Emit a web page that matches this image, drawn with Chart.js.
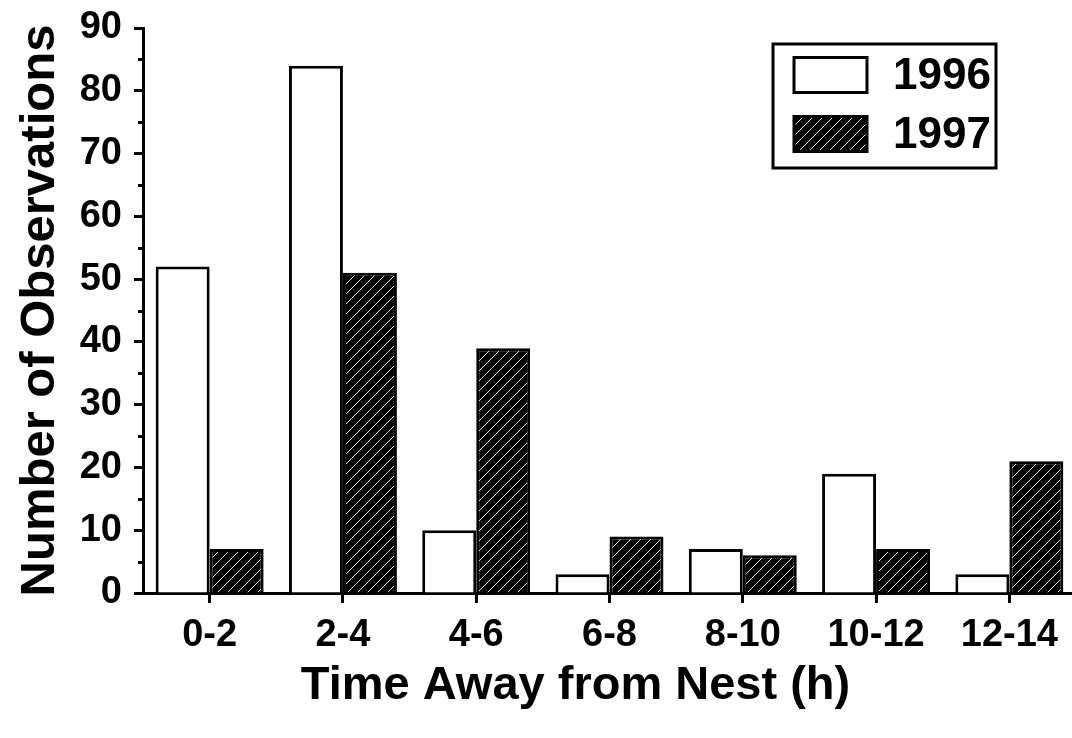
<!DOCTYPE html>
<html><head><meta charset="utf-8">
<script src="https://cdn.jsdelivr.net/npm/chart.js@4.4.1/dist/chart.umd.min.js"></script>
<style>html,body{margin:0;padding:0;background:#fff;overflow:hidden}#wrap{width:1076px;height:738px;position:relative}</style>
</head><body><div id="wrap"><canvas id="c" width="1076" height="738"></canvas></div>
<script>
const categories = ['0-2', '2-4', '4-6', '6-8', '8-10', '10-12', '12-14'];
const obs1996 = [52, 84, 10, 3, 7, 19, 3];
const obs1997 = [7, 51, 39, 9, 6, 7, 21];
const seriesLabels = ['1996', '1997'];
const xTitle = 'Time Away from Nest (h)';
const yTitle = 'Number of Observations';
const yMin = 0, yMax = 90, yMajorStep = 10, yMinorStep = 5;

const FONT = "'Liberation Sans', Arial, sans-serif";

function makeHatch() {
  const s = 10;
  const c = document.createElement('canvas');
  c.width = s; c.height = s;
  const g = c.getContext('2d');
  g.fillStyle = '#000';
  g.fillRect(0, 0, s, s);
  g.strokeStyle = '#fff';
  g.lineWidth = 0.9;
  g.beginPath();
  g.moveTo(0, s); g.lineTo(s, 0);
  g.moveTo(-s / 2, s / 2); g.lineTo(s / 2, -s / 2);
  g.moveTo(s / 2, s * 1.5); g.lineTo(s * 1.5, s / 2);
  g.stroke();
  return g.createPattern(c, 'repeat');
}
const hatch = makeHatch();

const minorTicks = {
  id: 'minorTicks',
  afterDraw(chart) {
    const y = chart.scales.y;
    const ctx = chart.ctx;
    ctx.save();
    ctx.strokeStyle = '#000';
    ctx.lineWidth = 3;
    for (let v = yMin + yMinorStep; v < yMax; v += yMajorStep) {
      const py = Math.round(y.getPixelForValue(v)) + 0.5;
      ctx.beginPath();
      ctx.moveTo(y.right - 5, py);
      ctx.lineTo(y.right, py);
      ctx.stroke();
    }
    ctx.restore();
  }
};

const xAxisTitle = {
  id: 'xAxisTitle',
  afterDraw(chart) {
    const ca = chart.chartArea;
    const ctx = chart.ctx;
    ctx.save();
    ctx.fillStyle = '#000';
    ctx.font = 'bold 47px ' + FONT;
    ctx.textAlign = 'center';
    ctx.textBaseline = 'alphabetic';
    ctx.fillText(xTitle, (ca.left + ca.right) / 2 - 34, ca.bottom + 106);
    ctx.restore();
  }
};

const boxLegend = {
  id: 'boxLegend',
  afterDraw(chart) {
    const ca = chart.chartArea;
    const ctx = chart.ctx;
    const left = ca.right - 303, top = ca.top + 16, w = 223, h = 124;
    ctx.save();
    ctx.lineWidth = 3;
    ctx.strokeStyle = '#000';
    ctx.strokeRect(left, top, w, h);
    ctx.font = 'bold 44px ' + FONT;
    ctx.textBaseline = 'middle';
    ctx.textAlign = 'left';
    chart.data.datasets.forEach((ds, i) => {
      const cy = top + 31 + i * 59;
      const sx = left + 21, sw = 73, sh = 35;
      ctx.fillStyle = ds.backgroundColor;
      ctx.fillRect(sx, cy - sh / 2, sw, sh);
      ctx.lineWidth = 3;
      ctx.strokeStyle = '#000';
      ctx.strokeRect(sx, cy - sh / 2, sw, sh);
      ctx.fillStyle = '#000';
      ctx.fillText(ds.label, left + 120, cy + 2);
    });
    ctx.restore();
  }
};

new Chart(document.getElementById('c'), {
  type: 'bar',
  data: {
    labels: categories,
    datasets: [
      { label: seriesLabels[0], data: obs1996, backgroundColor: '#ffffff', borderColor: '#000', borderWidth: 3 },
      { label: seriesLabels[1], data: obs1997, backgroundColor: hatch, borderColor: '#000', borderWidth: 3 }
    ]
  },
  options: {
    responsive: false,
    devicePixelRatio: 1,
    animation: false,
    layout: { padding: { left: 0, top: 28, right: 0, bottom: 0 } },
    datasets: { bar: { categoryPercentage: 0.81, barPercentage: 1.0 } },
    plugins: { legend: { display: false }, tooltip: { enabled: false } },
    scales: {
      x: {
        grid: { display: true, offset: false, drawOnChartArea: false, drawTicks: true, tickLength: 10, tickWidth: 3, tickColor: '#000' },
        border: { display: true, color: '#000', width: 3 },
        ticks: { color: '#000', font: { family: FONT, size: 38, weight: 'bold', lineHeight: 1.0 }, padding: 14, maxRotation: 0 },
        title: { display: false },
        afterFit(scale) { scale.height = 145; scale.paddingLeft = 0; scale.paddingRight = 0; }
      },
      y: {
        min: yMin, max: yMax,
        grid: { display: true, drawOnChartArea: false, drawTicks: true, tickLength: 9, tickWidth: 3,
          tickColor: (c) => (c.tick && c.tick.value % yMajorStep === 0) ? '#000' : 'rgba(0,0,0,0)' },
        border: { display: true, color: '#000', width: 3 },
        ticks: { stepSize: yMajorStep, color: '#000', font: { family: FONT, size: 38, weight: 'bold', lineHeight: 1.0 }, padding: 12 },
        title: { display: true, text: yTitle, color: '#000', font: { family: FONT, size: 49, weight: 'bold', lineHeight: 1.0 }, padding: { top: 16, bottom: 0 } },
        afterFit(scale) { scale.width = 143; scale.paddingTop = 0; scale.paddingBottom = 0; }
      }
    }
  },
  plugins: [minorTicks, xAxisTitle, boxLegend]
});
</script>
</body></html>
